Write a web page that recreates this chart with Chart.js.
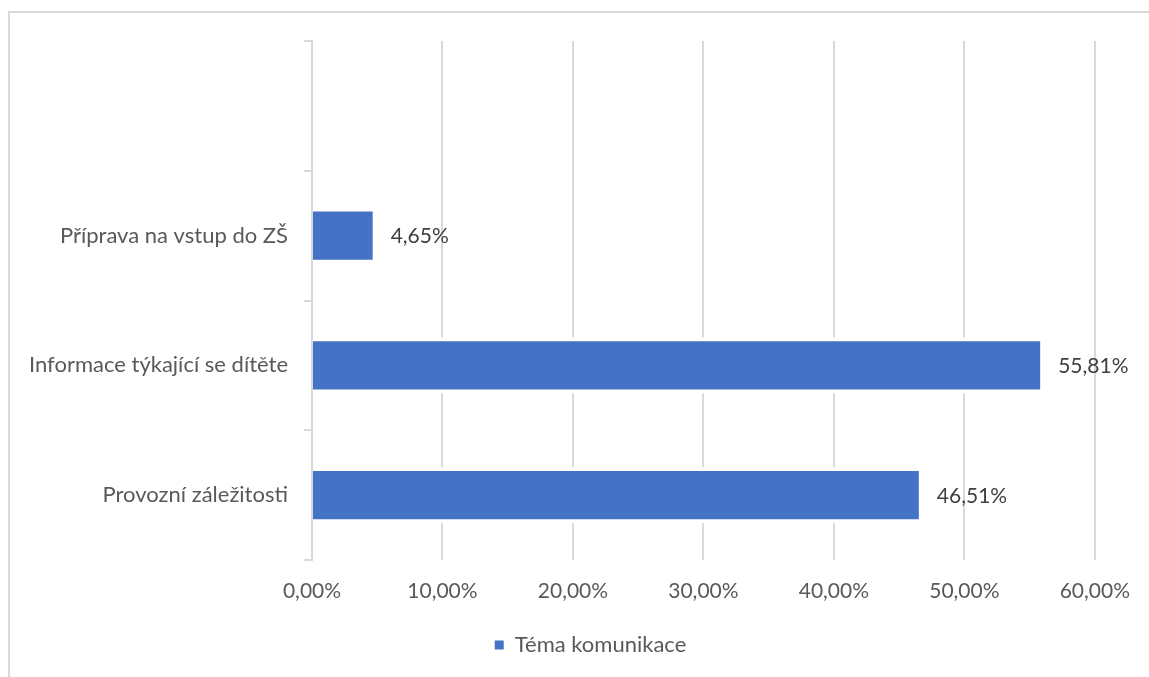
<!DOCTYPE html>
<html lang="cs">
<head>
<meta charset="utf-8">
<title>Téma komunikace</title>
<script src="https://cdn.jsdelivr.net/npm/chart.js@4/dist/chart.umd.min.js"></script>
<style>
  html, body { margin: 0; padding: 0; background: #ffffff; }
  body { width: 1149px; height: 677px; position: relative; overflow: hidden; }
  #frame {
    position: absolute; left: 8px; top: 11px; right: -40px; bottom: -10px;
    border-left: 2px solid #d9d9d9; border-top: 2px solid #d9d9d9;
  }
  #wrap { position: absolute; left: 0; top: 0; width: 1149px; height: 677px; }
</style>
</head>
<body>
<div id="frame"></div>
<div id="wrap"><canvas id="chart" width="1149" height="677"></canvas></div>
<script>
// Categories (top row intentionally left blank) and shares in percent
const categories = ['', 'Příprava na vstup do ZŠ', 'Informace týkající se dítěte', 'Provozní záležitosti'];
const shares = [null, 4.65, 55.81, 46.51];
const seriesName = 'Téma komunikace';
const xTicks = [0, 10, 20, 30, 40, 50, 60];

const FONT = 'Lato, "Open Sans", sans-serif';
const AXIS_TEXT = '#595959';
const LABEL_TEXT = '#404040';
const GRID = '#d9d9d9';
const BAR = '#4472C4';

const AXIS_X = 312;        // left edge of the plot area
const LEGEND_SHIFT = 43;   // centres the legend under the whole frame

const pct = v => v.toFixed(2).replace('.', ',') + '%';

// White halo behind each bar so the gridlines stop short of it
const barHalo = {
  id: 'barHalo',
  beforeDatasetsDraw(chart) {
    const ctx = chart.ctx;
    const meta = chart.getDatasetMeta(0);
    ctx.save();
    ctx.fillStyle = '#ffffff';
    meta.data.forEach((el, i) => {
      if (shares[i] == null) return;
      const p = el.getProps(['x', 'y', 'base', 'height'], true);
      const pad = 4;
      ctx.fillRect(p.base + 1.5, p.y - p.height / 2 - pad, p.x - p.base - 1.5 + pad, p.height + 2 * pad);
    });
    ctx.restore();
  }
};

// Value labels to the right of each bar
const valueLabels = {
  id: 'valueLabels',
  afterDatasetsDraw(chart) {
    const ctx = chart.ctx;
    const meta = chart.getDatasetMeta(0);
    ctx.save();
    ctx.font = '21px ' + FONT;
    ctx.fillStyle = LABEL_TEXT;
    ctx.textAlign = 'left';
    ctx.textBaseline = 'middle';
    meta.data.forEach((el, i) => {
      const v = shares[i];
      if (v == null) return;
      const p = el.getProps(['x', 'y'], true);
      ctx.fillText(pct(v), p.x + 18, p.y + 1);
    });
    ctx.restore();
  }
};

// Move the legend box sideways after layout
const legendShift = {
  id: 'legendShift',
  afterLayout(chart) {
    const lg = chart.legend;
    if (!lg) return;
    lg.left += LEGEND_SHIFT;
    lg.right += LEGEND_SHIFT;
  }
};

new Chart(document.getElementById('chart'), {
  type: 'bar',
  data: {
    labels: categories,
    datasets: [{
      label: seriesName,
      data: shares,
      backgroundColor: BAR,
      borderWidth: 0,
      barPercentage: 0.37,
      categoryPercentage: 1
    }]
  },
  options: {
    indexAxis: 'y',
    responsive: false,
    animation: false,
    devicePixelRatio: 1,
    layout: { padding: { top: 41, right: 54, bottom: 11, left: 0 } },
    plugins: {
      legend: {
        position: 'bottom',
        labels: {
          boxWidth: 9, boxHeight: 9, padding: 10,
          color: AXIS_TEXT,
          font: { family: FONT, size: 22 }
        }
      },
      tooltip: { enabled: false }
    },
    scales: {
      x: {
        min: 0, max: 60,
        afterBuildTicks(scale) { scale.ticks = xTicks.map(v => ({ value: v })); },
        afterFit(scale) { scale.height = 64; },
        ticks: {
          color: AXIS_TEXT,
          font: { family: FONT, size: 21 },
          padding: 19,
          callback: v => pct(v)
        },
        grid: { color: GRID, lineWidth: 2, drawTicks: false },
        border: { display: false }
      },
      y: {
        afterFit(scale) { scale.width = AXIS_X; },
        ticks: {
          color: AXIS_TEXT,
          font: { family: FONT, size: 22 },
          padding: 16
        },
        grid: { color: GRID, lineWidth: 2, drawOnChartArea: false, drawTicks: true, tickLength: 8, offset: true },
        border: { display: true, color: GRID, width: 2 }
      }
    }
  },
  plugins: [barHalo, valueLabels, legendShift]
});
</script>
</body>
</html>
